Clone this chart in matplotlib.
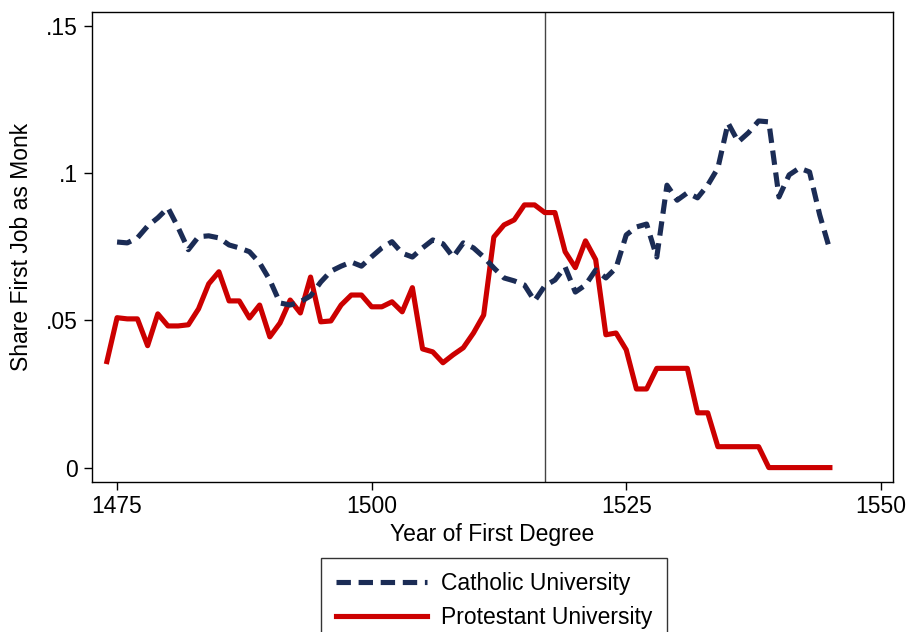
import numpy as np
import matplotlib
matplotlib.use("Agg")
import matplotlib.pyplot as plt

plt.rcParams['font.family'] = ['Liberation Sans', 'DejaVu Sans']

# share of first job as monk, by year of first degree
years_prot = list(range(1474, 1546))
protestant = [0.036, 0.0509, 0.0505, 0.0505, 0.0414, 0.0522, 0.0481, 0.0481, 0.0485, 0.0539,
              0.0624, 0.0665, 0.0566, 0.0566, 0.0508, 0.0552, 0.0444, 0.0491, 0.0569, 0.0525,
              0.0647, 0.0495, 0.0498, 0.0552, 0.0586, 0.0586, 0.0546, 0.0546, 0.0563, 0.0529,
              0.0611, 0.0403, 0.0393, 0.0356, 0.0383, 0.0407, 0.0457, 0.0518, 0.0783, 0.0824,
              0.0841, 0.0892, 0.0892, 0.0866, 0.0866, 0.0733, 0.0679, 0.077, 0.0706, 0.0451,
              0.0457, 0.040, 0.0267, 0.0267, 0.0337, 0.0337, 0.0337, 0.0337, 0.0186, 0.0186,
              0.0071, 0.0071, 0.0071, 0.0071, 0.0071, 0.0, 0.0, 0.0, 0.0, 0.0, 0.0, 0.0]

years_cath = list(range(1475, 1546))
catholic = [0.0766, 0.0763, 0.078, 0.082, 0.0848, 0.0882, 0.0815, 0.074, 0.0784, 0.0787,
            0.078, 0.0756, 0.0746, 0.0733, 0.0695, 0.0637, 0.0559, 0.0552, 0.0563, 0.0583,
            0.063, 0.0667, 0.0684, 0.0698, 0.0684, 0.0716, 0.0746, 0.0767, 0.0728, 0.0715,
            0.0746, 0.0773, 0.076, 0.0715, 0.0763, 0.0746, 0.0715, 0.0678, 0.0644, 0.0634,
            0.062, 0.0566, 0.0617, 0.0637, 0.0681, 0.0596, 0.062, 0.0671, 0.0644, 0.0678,
            0.079, 0.0817, 0.0827, 0.0715, 0.0959, 0.0908, 0.0933, 0.0916, 0.0959, 0.1017,
            0.117, 0.1106, 0.1137, 0.1177, 0.1174, 0.0919, 0.0994, 0.1017, 0.1004, 0.0858,
            0.0739]

reform_year = 1517
xticks = [1475, 1500, 1525, 1550]
yticks = [0, 0.05, 0.1, 0.15]
ytick_labels = ['0', '.05', '.1', '.15']

navy = '#1b2c55'
red = '#cc0000'
fs = 16.5

fig = plt.figure(figsize=(9.07, 6.32), dpi=100)
ax = fig.add_axes([0.101, 0.238, 0.8836, 0.743])

ax.axvline(reform_year, color='#444444', lw=1.0, zorder=1)
ax.plot(years_cath, catholic, color=navy, lw=3.7, dashes=(2.8, 1.5),
        dash_capstyle='butt', label='Catholic University', zorder=3)
ax.plot(years_prot, protestant, color=red, lw=3.7, solid_joinstyle='round',
        label='Protestant University', zorder=2)

ax.set_xlim(1472.5, 1551.2)
ax.set_ylim(-0.00475, 0.1547)
ax.set_xticks(xticks)
ax.set_yticks(yticks)
ax.set_yticklabels(ytick_labels)
ax.tick_params(axis='both', direction='out', length=6, width=1, labelsize=fs, pad=4)
for s in ax.spines.values():
    s.set_linewidth(1.0)

ax.set_xlabel('Year of First Degree', fontsize=fs, labelpad=3)
ax.set_ylabel('Share First Job as Monk', fontsize=fs, labelpad=9)

leg = fig.legend(loc='upper center', bbox_to_anchor=(0.5447, 0.117), ncol=1,
                 fontsize=fs, frameon=True, fancybox=False, edgecolor='black',
                 handlelength=4.0, handletextpad=0.6, borderpad=0.62,
                 labelspacing=0.45, borderaxespad=0)
leg.get_frame().set_linewidth(1.0)

fig.savefig('out.png', dpi=100)
